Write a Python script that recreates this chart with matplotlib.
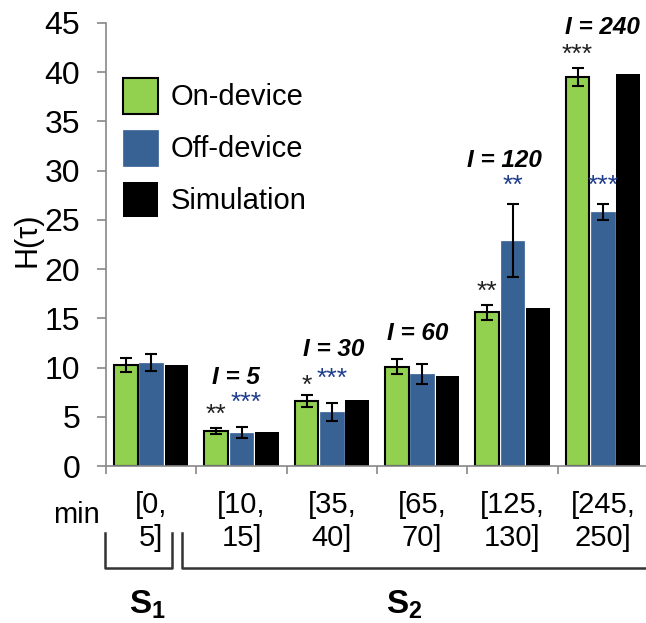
import numpy as np
import matplotlib.pyplot as plt
from matplotlib.lines import Line2D

plt.rcParams['font.family'] = ['Liberation Sans', 'DejaVu Sans']
plt.rcParams['mathtext.fontset'] = 'custom'
plt.rcParams['mathtext.rm'] = 'Liberation Sans'
plt.rcParams['mathtext.bf'] = 'Liberation Sans:bold'

# datos
intervalos = ['[0,\n5]', '[10,\n15]', '[35,\n40]', '[65,\n70]', '[125,\n130]', '[245,\n250]']
on_device = [10.25, 3.55, 6.6, 10.1, 15.6, 39.5]
on_err = [0.75, 0.3, 0.6, 0.78, 0.75, 0.93]
off_device = [10.5, 3.4, 5.5, 9.35, 22.9, 25.8]
off_err = [0.83, 0.55, 0.95, 1.05, 3.7, 0.8]
simulacion = [10.25, 3.5, 6.7, 9.15, 16.1, 39.8]
etiquetas_I = ['', 'I = 5', 'I = 30', 'I = 60', 'I = 120', 'I = 240']
estrellas_on = ['', '**', '*', '', '**', '***']
estrellas_off = ['', '***', '***', '', '**', '***']

verde = '#92D050'
azul = '#386194'
azul_txt = '#1F3D8C'

W, H = 646, 623
fig = plt.figure(figsize=(W / 100, H / 100), dpi=100)
ax = fig.add_axes([106 / W, 157 / H, 542 / W, 443 / H])

x = np.arange(len(intervalos))
ancho = 0.26
sep = 0.28
kw_err = dict(ecolor='black', capsize=4.5, error_kw=dict(elinewidth=1.5, capthick=1.5))
ax.bar(x - sep, on_device, ancho, color=verde, edgecolor='black', linewidth=1.5,
       yerr=on_err, label='On-device', zorder=2, **kw_err)
ax.bar(x, off_device, ancho, color=azul, edgecolor=azul, linewidth=0.5,
       yerr=off_err, label='Off-device', zorder=2, **kw_err)
ax.bar(x + sep, simulacion, ancho, color='black', label='Simulation', zorder=2)

# asteriscos
for i in range(len(x)):
    if estrellas_on[i]:
        y = on_device[i] + on_err[i] + (0.9 if estrellas_on[i] == '*' else 1.3)
        ax.text(x[i] - sep, y, estrellas_on[i], ha='center', va='center',
                fontsize=19, color='#222222')
    if estrellas_off[i]:
        y = off_device[i] + off_err[i] + (1.9 if i > 3 else 2.45)
        ax.text(x[i] + (0.05 if i == 1 else 0), y, estrellas_off[i], ha='center',
                va='center', fontsize=19, color=azul_txt)

# etiquetas I = ...
pos_I = [None, (-0.06, 9.0), (0.02, 11.8), (-0.05, 13.5), (-0.09, 31.0), (0.0, 44.5)]
for i in range(1, len(x)):
    dx, y = pos_I[i]
    ax.text(x[i] + dx, y, etiquetas_I[i], ha='center', va='center', fontsize=17.5,
            fontweight='bold', fontstyle='italic')

ax.set_ylim(0, 45)
ax.set_yticks(np.arange(0, 46, 5))
ax.set_xlim(-0.5, 5.5)
ax.set_xticks(np.arange(-0.5, 6, 1))
ax.set_xticklabels([])
ax.set_xticks(x, minor=True)
ax.set_xticklabels(intervalos, minor=True, fontsize=21, linespacing=1.25)
ax.tick_params(axis='x', which='minor', length=0, pad=18)
ax.tick_params(axis='x', which='major', length=6, color='#888888', width=1.2)
ax.tick_params(axis='y', labelsize=23, length=6.5, color='#888888', width=1.2, pad=12)
for s in ['top', 'right']:
    ax.spines[s].set_visible(False)
for s in ['left', 'bottom']:
    ax.spines[s].set_color('#888888')
    ax.spines[s].set_linewidth(1.2)
ax.set_ylabel('H(τ)', fontsize=22)
ax.yaxis.set_label_coords(-0.118, 0.51)

ax.legend(loc='upper left', bbox_to_anchor=(123 / W, 1 - 78 / H),
          bbox_transform=fig.transFigure, frameon=False, fontsize=21,
          handlelength=1.2, handleheight=1.5, labelspacing=0.56,
          handletextpad=0.45, borderpad=0, borderaxespad=0)

# texto y llaves bajo el eje
def fx(px):
    return px / W

def fy(py):
    return 1 - py / H

fig.text(fx(76), fy(515), 'min', ha='center', va='center', fontsize=21)
gris = '#333333'
fig.add_artist(Line2D([fx(105), fx(105), fx(172), fx(172)],
                      [fy(533), fy(568), fy(568), fy(533)], color=gris, lw=1.8))
fig.add_artist(Line2D([fx(182), fx(182), fx(650)],
                      [fy(533), fy(568), fy(568)], color=gris, lw=1.8))
fig.text(fx(147), fy(605), r'$\mathbf{S_1}$', ha='center', va='center', fontsize=24)
fig.text(fx(404), fy(605), r'$\mathbf{S_2}$', ha='center', va='center', fontsize=24)

plt.savefig('out.png', dpi=100)
